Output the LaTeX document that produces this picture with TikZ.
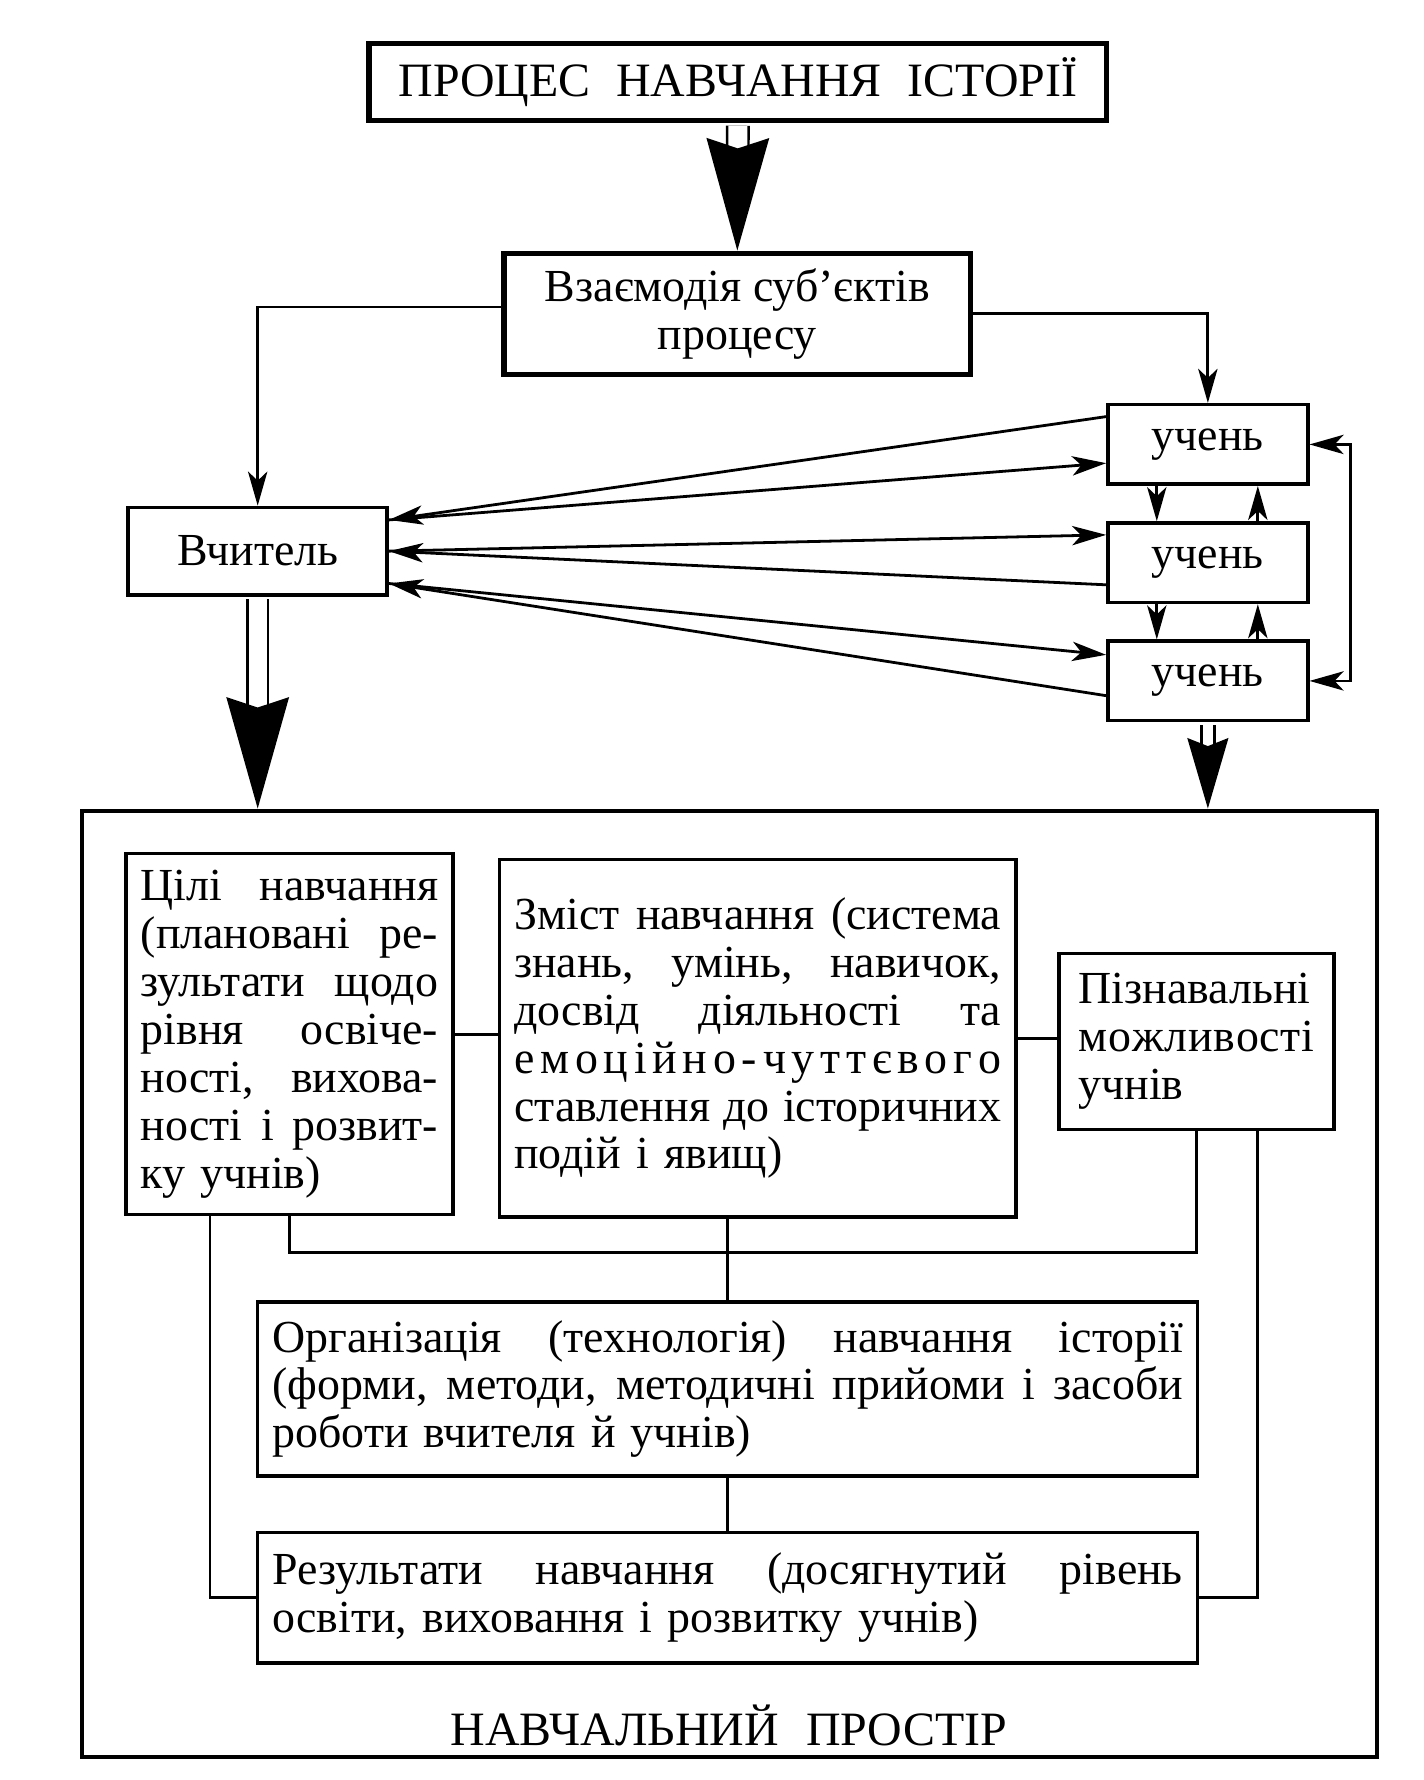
\documentclass[tikz,border=0pt]{standalone}
\usepackage{fontspec}
\setmainfont{Liberation Serif}
\usetikzlibrary{arrows.meta,positioning,calc}
\tikzset{
  box/.style={draw,line width=0.9pt,inner xsep=1.3mm,inner ysep=0pt},
  heavy/.style={box,line width=1.3pt},
  pupil/.style={box,minimum width=1.76cm,minimum height=7mm},
  link/.style={line width=0.7pt},
  arr/.style={link,->},
  shaft/.style={double,double distance=#1,line width=0.6pt,shorten <=0.7pt},
  head/.style n args={3}{white,line width=0.6pt,shorten <=1pt,
    -{Stealth[black,fill=black,length=#1,width=#2,inset=#3]}},
  big/.style={font=\fontsize{12}{12}\selectfont}
}
\setlength{\parindent}{0pt}
\makeatletter
% justified line and letter-spaced word
\newcommand{\jl}[1]{\noindent\makebox[\hsize][s]{\spaceskip=0pt\xspaceskip=0pt #1}\\}
\newcommand{\spread}[1]{\noindent\makebox[\hsize][s]{\let\sp@gap\relax
  \@tfor\sp@ch:=#1\do{\sp@gap\sp@ch\let\sp@gap\hfil}}}
\makeatother

\begin{document}
\begin{tikzpicture}[font=\fontsize{11.5}{12}\selectfont,
  >={Stealth[length=3mm,width=1.7mm,inset=0.8mm]}]
  \useasboundingbox (0,0) rectangle (12.54,-15.68);

  % top part
  \node[heavy,big,minimum width=6.5cm,minimum height=6.8mm] (title) at (6.50,-0.72)
    {\makebox[5.98cm][s]{ПРОЦЕС НАВЧАННЯ ІСТОРІЇ}};
  \node[heavy,minimum width=4.11cm,minimum height=1.07cm,align=center] (inter) at (6.495,-2.765)
    {Взаємодія суб’єктів\\процесу};
  \node[box,minimum width=2.28cm,minimum height=7.7mm] (teacher) at (2.27,-4.855) {Вчитель};
  \node[pupil] (u1) at (10.64,-3.915) {учень};
  \node[pupil,below=3.1mm of u1] (u2) {учень};
  \node[pupil,below=3.1mm of u2] (u3) {учень};

  % learning space
  \node[box,line width=1pt,minimum width=11.41cm,minimum height=8.34cm] (space) at (6.425,-11.31) {};
  \node[box,text width=2.62cm,minimum height=3.18cm] (goals) at (2.55,-9.11)
    {\jl{Цілі навчання}\jl{(плановані ре-}\jl{зультати щодо}\jl{рівня освіче-}%
     \jl{ності, вихова-}\jl{ності і розвит-}ку учнів)};
  \node[box,text width=4.29cm,minimum height=3.15cm] (content) at (6.675,-9.145)
    {\jl{Зміст навчання (система}\jl{знань, умінь, навичок,}\jl{досвід діяльності та}%
     \spread{емоційно-чуттєвого}\\\jl{ставлення до історичних}подій і явищ)};
  \node[box,inner xsep=1.7mm,text width=2.08cm,minimum height=1.55cm] (cogn) at (10.54,-9.175)
    {Пізнавальні\\\spread{можливості}\\учнів};
  \node[box,text width=8.02cm,minimum height=1.53cm] (org) at (6.41,-12.235)
    {\jl{Організація (технологія) навчання історії}%
     \jl{(форми, методи, методичні прийоми і засоби}роботи вчителя й учнів)};
  \node[box,text width=8.02cm,minimum height=1.15cm] (res) at (6.41,-14.075)
    {\jl{Результати навчання (досягнутий рівень}освіти, виховання і розвитку учнів)};
  \node[big,anchor=base] (spacename) at (6.42,-15.38)
    {\makebox[4.9cm][s]{НАВЧАЛЬНИЙ ПРОСТІР}};

  % fat arrows
  \draw[shaft=1.68mm,shorten >=8.8mm] (title.south) -- (inter.north);
  \draw[head={9.9mm}{5.5mm}{0.9mm}] (title.south) -- (inter.north);
  \draw[shaft=1.58mm,shorten >=8.7mm] (teacher.south) -- (teacher.south |- space.north);
  \draw[head={9.8mm}{5.5mm}{0.9mm}] (teacher.south) -- (teacher.south |- space.north);
  \draw[shaft=0.93mm,shorten >=5.4mm] (u3.south) -- (u3.south |- space.north);
  \draw[head={6.2mm}{3.6mm}{0.7mm}] (u3.south) -- (u3.south |- space.north);

  % interaction
  \draw[arr] ([yshift=0.6mm]inter.west) -| (teacher.north);
  \draw[arr] (inter.east) -| (u1.north);
  \draw[arr] ([yshift=2.45mm]u1.west) -- ([yshift=2.75mm]teacher.east);
  \draw[arr] ([yshift=2.75mm]teacher.east) -- ([yshift=-1.65mm]u1.west);
  \draw[arr] ([yshift=-1.95mm]u2.west) -- (teacher.east);
  \draw[arr] (teacher.east) -- ([yshift=2.45mm]u2.west);
  \draw[arr] ([yshift=-1.3mm]u3.west) -- ([yshift=-2.85mm]teacher.east);
  \draw[arr] ([yshift=-2.85mm]teacher.east) -- ([yshift=2.3mm]u3.west);
  \draw[arr] ([xshift=-4.5mm]u1.south) -- ([xshift=-4.5mm]u2.north);
  \draw[arr] ([xshift=4.4mm]u2.north) -- ([xshift=4.4mm]u1.south);
  \draw[arr] ([xshift=-4.5mm]u2.south) -- ([xshift=-4.5mm]u3.north);
  \draw[arr] ([xshift=4.4mm]u3.north) -- ([xshift=4.4mm]u2.south);
  \draw[link,<->] (u1.east) -| ([xshift=3.6mm]u2.east) |- (u3.east);

  % links inside the space
  \draw[link] (goals.east) -- (goals.east -| content.west);
  \draw[link] (content.east) -- (content.east -| cogn.west);
  \draw[link] (goals.south) |- ($(org.north)+(0,0.42)$) -| (cogn.south);
  \draw[link] (org.north) -- (org.north |- content.south);
  \draw[link] (org.south) -- (res.north);
  \draw[link] ([xshift=-7mm]goals.south) |- (res.west);
  \draw[link] ([xshift=5.4mm]cogn.south) |- (res.east);
\end{tikzpicture}
\end{document}
